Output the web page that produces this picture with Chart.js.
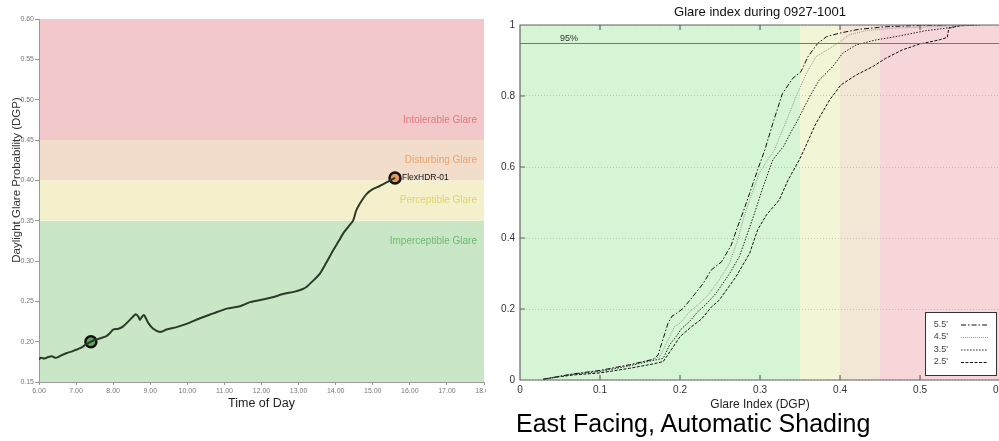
<!DOCTYPE html>
<html>
<head>
<meta charset="utf-8">
<script src="https://cdn.jsdelivr.net/npm/chart.js@4/dist/chart.umd.min.js"></script>
<style>
  html, body { margin: 0; padding: 0; background: #fff; }
  body { width: 999px; height: 441px; overflow: hidden; position: relative; }
  #left { position: absolute; left: 0; top: 0; }
  #right { position: absolute; left: 486px; top: 0; background: #fff; }
  #caption { position: absolute; left: 516px; top: 411px; font: 25px/25px 'Liberation Sans', Arial, sans-serif; color: #000; white-space: nowrap; }
</style>
</head>
<body>
<canvas id="left" width="500" height="441"></canvas>
<canvas id="right" width="525" height="441"></canvas>
<div id="caption">East Facing, Automatic Shading</div>
<script>
// ─────────────────────────────────────────────
//  DATA
// ─────────────────────────────────────────────

// left: DGP over the day (FlexHDR-01)
const times = [6.00, 6.05, 6.15, 6.25, 6.35, 6.45, 6.52, 6.6, 6.75, 6.9, 7.0, 7.15, 7.25, 7.4, 7.5, 7.64,
  7.82, 7.92, 8.0, 8.14, 8.27, 8.45, 8.61, 8.68, 8.72, 8.78, 8.83, 8.95, 9.08, 9.26, 9.44, 9.71, 9.98,
  10.34, 10.7, 11.06, 11.42, 11.69, 12.0, 12.3, 12.58, 12.9, 13.1, 13.22, 13.4, 13.57, 13.75, 13.93,
  14.1, 14.2, 14.35, 14.47, 14.55, 14.65, 14.83, 15.0, 15.19, 15.4, 15.6];
const dgp = [0.178, 0.180, 0.179, 0.181, 0.182, 0.180, 0.181, 0.183, 0.186, 0.188, 0.190, 0.193, 0.196, 0.200, 0.202, 0.204,
  0.207, 0.211, 0.215, 0.216, 0.219, 0.227, 0.234, 0.231, 0.227, 0.231, 0.233, 0.223, 0.216, 0.212, 0.215, 0.218, 0.222,
  0.229, 0.235, 0.241, 0.244, 0.249, 0.252, 0.255, 0.259, 0.262, 0.265, 0.268, 0.276, 0.284, 0.298, 0.313,
  0.326, 0.334, 0.343, 0.350, 0.362, 0.371, 0.383, 0.389, 0.393, 0.398, 0.403];
const markTimes = [7.4, 15.6];
const markDgp = [0.200, 0.403];
const markColors = ['#5fa55f', '#e8955a'];
const seriesName = 'FlexHDR-01';

const zoneEdges = [0.15, 0.35, 0.40, 0.45, 0.60];
const zoneFills = ['#c9e6c6', '#f5f0cc', '#f1ddca', '#f2c8cb'];
const zoneNames = ['Imperceptible Glare', 'Perceptible Glare', 'Disturbing Glare', 'Intolerable Glare'];
const zoneNameAt = [0.325, 0.375, 0.425, 0.475];
const zoneTextColors = ['#6cbc6c', '#d9d66a', '#eba36c', '#e07a7c'];

// right: cumulative distribution of glare index
const dgp55 = [0.029, 0.046, 0.066, 0.100, 0.137, 0.166, 0.1725, 0.177, 0.181, 0.185, 0.190, 0.196, 0.204, 0.216, 0.229,
  0.239, 0.252, 0.264, 0.272, 0.279, 0.287, 0.297, 0.306, 0.316, 0.328, 0.341, 0.351, 0.360, 0.372, 0.383, 0.399,
  0.424, 0.457, 0.49, 0.532];
const cdf55 = [0.002, 0.009, 0.017, 0.027, 0.043, 0.058, 0.070, 0.103, 0.131, 0.160, 0.180, 0.188, 0.202, 0.235, 0.272,
  0.310, 0.333, 0.380, 0.432, 0.474, 0.526, 0.592, 0.648, 0.723, 0.807, 0.850, 0.868, 0.911, 0.948, 0.967, 0.977,
  0.988, 0.995, 0.998, 1.0];
const dgp45 = [0.029, 0.046, 0.066, 0.100, 0.137, 0.166, 0.175, 0.181, 0.187, 0.193, 0.200, 0.212, 0.224, 0.235, 0.249,
  0.262, 0.272, 0.280, 0.290, 0.299, 0.312, 0.318, 0.330, 0.345, 0.358, 0.370, 0.387, 0.399, 0.411, 0.432, 0.466,
  0.507, 0.541, 0.57];
const cdf45 = [0.002, 0.009, 0.017, 0.026, 0.042, 0.058, 0.066, 0.094, 0.122, 0.150, 0.160, 0.192, 0.215, 0.239, 0.282,
  0.329, 0.394, 0.460, 0.526, 0.582, 0.629, 0.648, 0.714, 0.798, 0.864, 0.911, 0.934, 0.951, 0.972, 0.984, 0.991,
  0.994, 0.998, 1.0];
const dgp35 = [0.029, 0.046, 0.066, 0.100, 0.137, 0.166, 0.179, 0.187, 0.195, 0.202, 0.212, 0.222, 0.232, 0.245, 0.262,
  0.274, 0.283, 0.293, 0.304, 0.316, 0.330, 0.339, 0.345, 0.362, 0.374, 0.391, 0.403, 0.420, 0.445, 0.474, 0.507,
  0.532, 0.55, 0.575];
const cdf35 = [0.002, 0.009, 0.016, 0.024, 0.040, 0.055, 0.061, 0.099, 0.122, 0.145, 0.165, 0.192, 0.212, 0.244, 0.300,
  0.347, 0.404, 0.469, 0.545, 0.620, 0.660, 0.700, 0.723, 0.798, 0.845, 0.883, 0.920, 0.944, 0.958, 0.969, 0.984,
  0.991, 0.998, 1.0];
const dgp25 = [0.029, 0.046, 0.066, 0.100, 0.137, 0.166, 0.179, 0.189, 0.200, 0.212, 0.227, 0.239, 0.249, 0.270, 0.287,
  0.297, 0.308, 0.324, 0.335, 0.349, 0.355, 0.366, 0.370, 0.387, 0.401, 0.420, 0.441, 0.457, 0.478, 0.499, 0.524,
  0.534, 0.536, 0.55, 0.57];
const cdf25 = [0.002, 0.008, 0.014, 0.020, 0.033, 0.045, 0.052, 0.085, 0.122, 0.146, 0.172, 0.205, 0.225, 0.291, 0.357,
  0.423, 0.465, 0.507, 0.563, 0.620, 0.648, 0.704, 0.723, 0.789, 0.831, 0.859, 0.883, 0.906, 0.930, 0.946, 0.958,
  0.965, 0.991, 0.998, 1.0];
const heights = ["5.5'", "4.5'", "3.5'", "2.5'"];

const indexEdges = [0, 0.35, 0.40, 0.45, 0.60];
const indexFills = ['#d5f5d5', '#f2f5d6', '#f2e6d5', '#f6d6d8'];
const threshold = 0.95;

const FONT = "'Liberation Sans', Arial, sans-serif";
Chart.defaults.font.family = FONT;

const pts = (xs, ys) => xs.map((x, i) => ({ x, y: ys[i] }));

// ─────────────────────────────────────────────
//  LEFT CHART
// ─────────────────────────────────────────────

const zonePlugin = {
  id: 'zones',
  beforeDraw(chart) {
    const { ctx, chartArea: a, scales: { y } } = chart;
    ctx.save();
    zoneFills.forEach((c, i) => {
      const top = y.getPixelForValue(zoneEdges[i + 1]);
      const bot = y.getPixelForValue(zoneEdges[i]);
      ctx.fillStyle = c;
      ctx.fillRect(a.left, top, a.right - a.left, bot - top);
    });
    ctx.restore();
  },
  beforeDatasetsDraw(chart) {
    const { ctx, chartArea: a, scales: { y } } = chart;
    ctx.save();
    ctx.font = '10px ' + FONT;
    ctx.textAlign = 'right';
    ctx.textBaseline = 'middle';
    zoneNames.forEach((n, i) => {
      ctx.fillStyle = zoneTextColors[i];
      ctx.fillText(n, a.right - 7, y.getPixelForValue(zoneNameAt[i]));
    });
    ctx.restore();
  },
  afterDatasetsDraw(chart) {
    const { ctx } = chart;
    const last = chart.getDatasetMeta(1).data[1];
    ctx.save();
    ctx.font = '8.5px ' + FONT;
    ctx.fillStyle = '#111';
    ctx.textBaseline = 'middle';
    ctx.fillText(seriesName, last.x + 7, last.y);
    // y axis title, centred on the whole figure height
    ctx.translate(17, 180);
    ctx.rotate(-Math.PI / 2);
    ctx.font = '11.5px ' + FONT;
    ctx.fillStyle = '#333';
    ctx.textAlign = 'center';
    ctx.fillText('Daylight Glare Probability (DGP)', 0, 0);
    ctx.restore();
  }
};

new Chart(document.getElementById('left'), {
  type: 'line',
  data: {
    datasets: [{
      label: seriesName,
      data: pts(times, dgp),
      borderColor: '#2c3a2c',
      borderWidth: 2,
      pointRadius: 0,
      tension: 0.25
    }, {
      label: 'marks',
      data: pts(markTimes, markDgp),
      showLine: false,
      pointRadius: 5.5,
      pointBorderWidth: 2.5,
      pointBorderColor: '#111',
      pointBackgroundColor: markColors
    }]
  },
  options: {
    responsive: false,
    animation: false,
    layout: { padding: { top: 19, right: 16, left: 0, bottom: 0 } },
    plugins: { legend: { display: false }, tooltip: { enabled: false } },
    scales: {
      x: {
        type: 'linear', min: 6, max: 18,
        ticks: { stepSize: 1, callback: v => v.toFixed(2), font: { size: 7 }, color: '#777', padding: 2, maxRotation: 0, autoSkip: false },
        grid: { drawOnChartArea: false, tickLength: 3, color: '#999' },
        border: { color: '#999' },
        title: { display: true, text: 'Time of Day', font: { size: 12.5 }, color: '#222', padding: { top: 0, bottom: 30 } },
        afterFit: s => { s.height = 59; }
      },
      y: {
        min: 0.15, max: 0.60,
        ticks: { stepSize: 0.05, callback: v => v.toFixed(2), font: { size: 7 }, color: '#777', padding: 1 },
        grid: { drawOnChartArea: false, tickLength: 4, color: '#999' },
        border: { color: '#999' },
        afterFit: s => { s.width = 39; }
      }
    }
  },
  plugins: [zonePlugin]
});

// ─────────────────────────────────────────────
//  RIGHT CHART
// ─────────────────────────────────────────────

const framePlugin = {
  id: 'frame',
  beforeDraw(chart) {
    const { ctx, chartArea: a, scales: { x } } = chart;
    ctx.save();
    indexFills.forEach((c, i) => {
      const l = x.getPixelForValue(indexEdges[i]);
      const r = x.getPixelForValue(indexEdges[i + 1]);
      ctx.fillStyle = c;
      ctx.fillRect(l, a.top, r - l, a.bottom - a.top);
    });
    ctx.restore();
  },
  afterDatasetsDraw(chart) {
    const { ctx, chartArea: a, scales: { x, y } } = chart;
    ctx.save();
    // 95% line
    const ty = Math.round(y.getPixelForValue(threshold)) + 0.5;
    ctx.strokeStyle = '#777';
    ctx.lineWidth = 1;
    ctx.beginPath(); ctx.moveTo(a.left, ty); ctx.lineTo(a.right, ty); ctx.stroke();
    ctx.font = '9px ' + FONT;
    ctx.fillStyle = '#333';
    ctx.textBaseline = 'middle';
    ctx.fillText(Math.round(threshold * 100) + '%', a.left + 40, ty - 5);

    // frame + inward ticks
    ctx.strokeStyle = '#666';
    ctx.lineWidth = 1.2;
    ctx.beginPath();
    ctx.moveTo(a.right, a.top); ctx.lineTo(a.left, a.top);
    ctx.lineTo(a.left, a.bottom); ctx.lineTo(a.right, a.bottom);
    x.ticks.forEach(t => {
      const px = x.getPixelForValue(t.value);
      ctx.moveTo(px, a.bottom); ctx.lineTo(px, a.bottom - 5);
      ctx.moveTo(px, a.top); ctx.lineTo(px, a.top + 5);
    });
    y.ticks.forEach(t => {
      const py = y.getPixelForValue(t.value);
      ctx.moveTo(a.left, py); ctx.lineTo(a.left + 5, py);
    });
    ctx.stroke();

    // legend
    const bw = 71, bh = 63;
    const bx = a.right - 4 - bw, by = a.bottom - 5 - bh;
    ctx.fillStyle = '#fff';
    ctx.fillRect(bx, by, bw, bh);
    ctx.strokeStyle = '#333';
    ctx.lineWidth = 1;
    ctx.strokeRect(Math.round(bx) + 0.5, Math.round(by) + 0.5, bw, bh);
    ctx.textAlign = 'right';
    ctx.font = '9px ' + FONT;
    chart.data.datasets.forEach((ds, i) => {
      const ly = by + 12.5 + i * 12.5;
      ctx.fillStyle = '#444';
      ctx.fillText(ds.label, bx + 23, ly);
      ctx.strokeStyle = ds.borderColor;
      ctx.setLineDash(ds.borderDash);
      ctx.beginPath(); ctx.moveTo(bx + 36, ly + 0.5); ctx.lineTo(bx + 63, ly + 0.5); ctx.stroke();
    });
    ctx.setLineDash([]);
    ctx.restore();
  }
};

const styles = [
  { color: '#111', dash: [5, 2, 1.5, 2] },
  { color: '#999', dash: [1, 1] },
  { color: '#222', dash: [1.5, 1.5] },
  { color: '#111', dash: [3, 1.5] }
];
const series = [pts(dgp55, cdf55), pts(dgp45, cdf45), pts(dgp35, cdf35), pts(dgp25, cdf25)];

new Chart(document.getElementById('right'), {
  type: 'line',
  data: {
    datasets: series.map((d, i) => ({
      label: heights[i],
      data: d,
      borderColor: styles[i].color,
      borderDash: styles[i].dash,
      borderWidth: 1,
      pointRadius: 0,
      tension: 0
    }))
  },
  options: {
    responsive: false,
    animation: false,
    layout: { padding: { top: 0, right: 10, left: 0, bottom: 0 } },
    plugins: {
      legend: { display: false },
      tooltip: { enabled: false },
      title: {
        display: true, fullSize: false,
        text: 'Glare index during 0927-1001',
        font: { size: 13, weight: 'normal' }, color: '#111',
        padding: { top: 5, bottom: 4.4 }
      }
    },
    scales: {
      x: {
        type: 'linear', min: 0, max: 0.6,
        ticks: { stepSize: 0.1, callback: v => v === 0 ? '0' : v.toFixed(1), font: { size: 10 }, color: '#333', padding: 4, maxRotation: 0 },
        grid: { display: false, drawTicks: false },
        border: { display: false },
        title: { display: true, text: 'Glare Index (DGP)', font: { size: 12 }, color: '#222', padding: { top: 0, bottom: 28.8 } },
        afterFit: s => { s.height = 61; }
      },
      y: {
        min: 0, max: 1,
        ticks: { stepSize: 0.2, callback: v => (v === 0 || v === 1) ? String(v) : v.toFixed(1), font: { size: 10 }, color: '#333', padding: 5 },
        grid: { drawTicks: false, color: 'rgba(140,140,140,0.4)' },
        border: { display: false, dash: [1, 2] },
        afterFit: s => { s.width = 34; }
      }
    }
  },
  plugins: [framePlugin]
});
</script>
</body>
</html>
